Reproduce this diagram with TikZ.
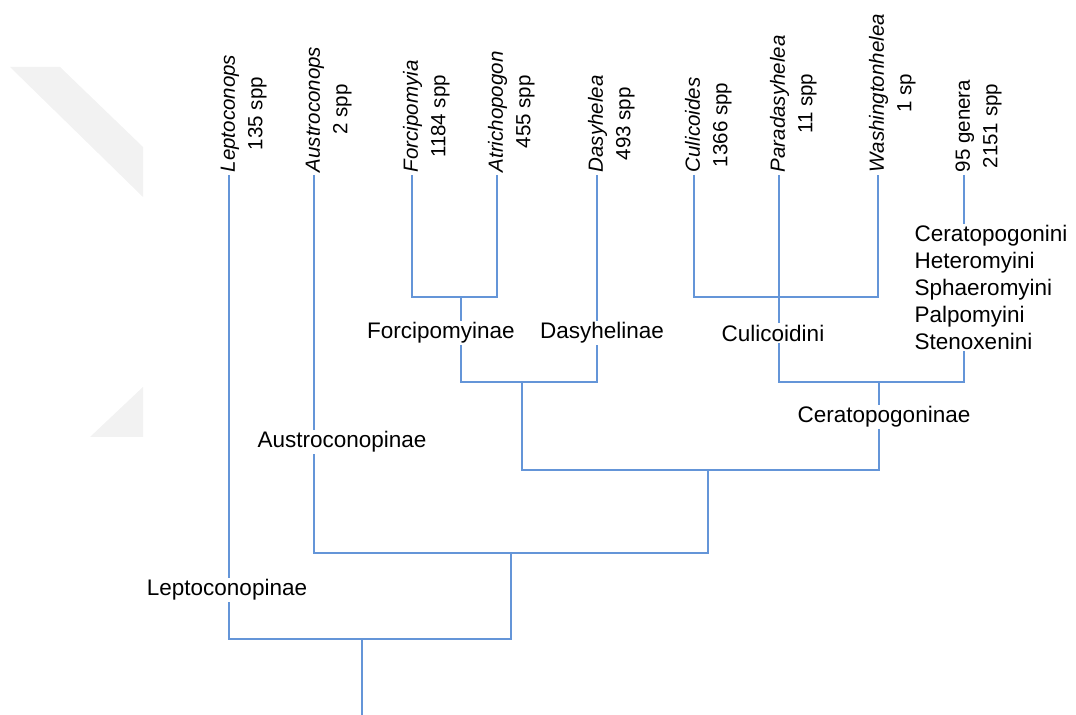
\documentclass[tikz,border=0pt]{standalone}
\usepackage{fontspec}
\setmainfont{Liberation Sans}
\usetikzlibrary{positioning}

\definecolor{branchblue}{RGB}{100,149,216}
\definecolor{wmark}{RGB}{242,242,242}

\tikzset{
  branch/.style={draw=branchblue, line width=1.3pt},
  genus/.style={rotate=90, anchor=west, inner sep=1.7pt, text height=12pt, text depth=3.75pt,
                font=\fontsize{14.6}{18}\selectfont\itshape},
  spcount/.style={rotate=90, inner sep=1.7pt, text height=12pt, text depth=3.75pt,
                font=\fontsize{14.6}{18}\selectfont},
  clade/.style={fill=white, inner sep=1pt, font=\fontsize{16}{19.1}\selectfont},
}

\begin{document}
\begin{tikzpicture}[x=0.025cm, y=0.025cm]
  \pgfmathsetmacro\ytop{540}   % top of the leaf lines
  \useasboundingbox (0,0) rectangle (1076,715);

% faint watermark on the left
  \fill[wmark] (10,648) -- (60,648) -- (143,568) -- (143,518) -- cycle;
  \fill[wmark] (90,278) -- (143,328) -- (143,278) -- cycle;

% leaves
  \node[genus] (lep) at (229,\ytop) {Leptoconops};
  \node[spcount, below=0pt of lep] (lepn) {135 spp};
  \node[genus] (aus) at (314,\ytop) {Austroconops};
  \node[spcount, below=0pt of aus] (ausn) {2 spp};
  \node[genus] (forc) at (412,\ytop) {Forcipomyia};
  \node[spcount, below=0pt of forc] (forcn) {1184 spp};
  \node[genus] (atri) at (497,\ytop) {Atrichopogon};
  \node[spcount, below=0pt of atri] (atrin) {455 spp};
  \node[genus] (dasy) at (597,\ytop) {Dasyhelea};
  \node[spcount, below=0pt of dasy] (dasyn) {493 spp};
  \node[genus] (culi) at (694,\ytop) {Culicoides};
  \node[spcount, below=0pt of culi] (culin) {1366 spp};
  \node[genus] (para) at (779,\ytop) {Paradasyhelea};
  \node[spcount, below=0pt of para] (paran) {11 spp};
  \node[genus] (wash) at (878,\ytop) {Washingtonhelea};
  \node[spcount, below=0pt of wash] (washn) {1 sp};
  \node[genus, font=\fontsize{14.6}{18}\selectfont] (gen) at (964,\ytop) {95 genera};
  \node[spcount, below=0pt of gen] (genn) {2151 spp};

% branching points
  \coordinate (j1) at (461,418);
  \coordinate (j2) at (522,333);
  \coordinate (j3) at (779,418);
  \coordinate (j4) at (879,333);
  \coordinate (j5) at (708,245);
  \coordinate (j6) at (511,162);
  \coordinate (j7) at (362,76);
  \coordinate (root) at (362,0);

% branches
  \draw[branch] (forc.west) |- (j1) -| (atri.west);
  \draw[branch] (j1) |- (j2) -| (dasy.west);
  \draw[branch] (culi.west) |- (j3) -| (wash.west);
  \draw[branch] (para.west) |- (j4) -| (gen.west);
  \draw[branch] (j2) |- (j5) -| (j4);
  \draw[branch] (aus.west) |- (j6) -| (j5);
  \draw[branch] (lep.west) |- (j7) -| (j6);
  \draw[branch] (j7) -- (root);

% subfamily and tribe labels
  \node[clade] (forcl) at (441,382) {Forcipomyinae};
  \node[clade] (dasyl) at (602,382) {Dasyhelinae};
  \node[clade] (culil) at (773,382) {Culicoidini};
  \node[clade] (cerl) at (884,298) {Ceratopogoninae};
  \node[clade] (ausl) at (342,273) {Austroconopinae};
  \node[clade] (lepl) at (227,125) {Leptoconopinae};
  \node[clade, align=left, anchor=north west] (tribes) at (913,491)
    {Ceratopogonini\\Heteromyini\\Sphaeromyini\\Palpomyini\\Stenoxenini};
\end{tikzpicture}
\end{document}
